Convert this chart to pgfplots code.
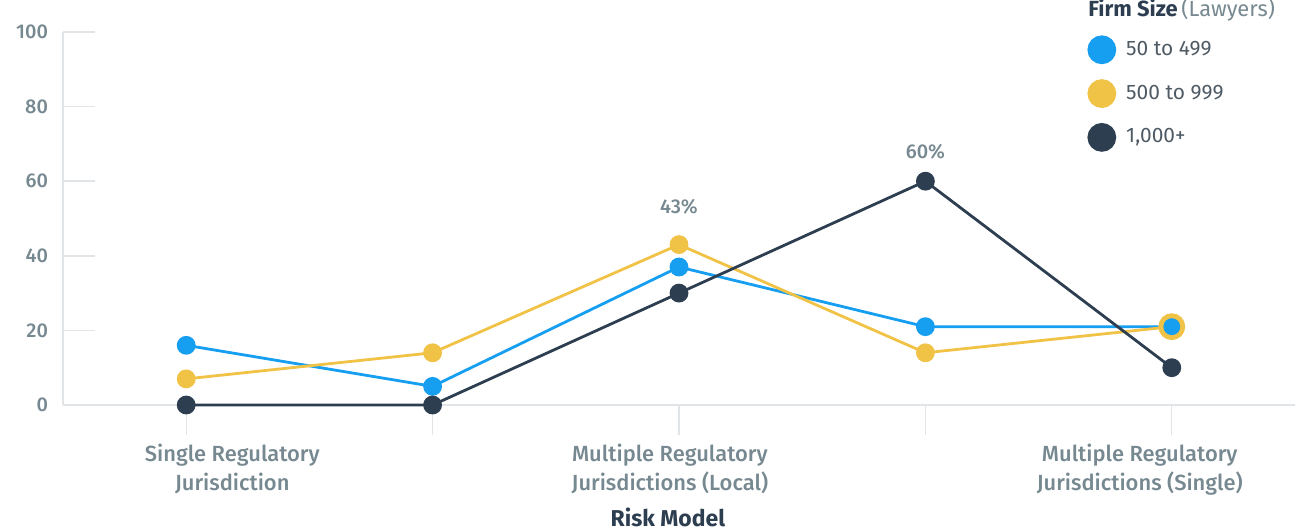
\documentclass[border=0pt]{standalone}
\usepackage{fontspec}
\setmainfont{Fira Sans}
\newfontfamily\firamed{Fira Sans}[UprightFont=* Medium]
\usepackage{pgfplots}
\pgfplotsset{compat=1.18}
\definecolor{cblue}{RGB}{22,158,240}
\definecolor{cyellow}{RGB}{240,194,70}
\definecolor{cdark}{RGB}{45,62,80}
\definecolor{gridgray}{RGB}{226,229,231}
\definecolor{ticktext}{RGB}{118,136,144}
\definecolor{legtext}{RGB}{78,90,100}
\begin{document}
\begin{tikzpicture}
\path[use as bounding box] (-31.5bp,-62bp) rectangle (616.5bp,202.5bp);
% background axis: x axis line, ticks and category labels
\begin{axis}[
  at={(0,0)}, anchor=south west, scale only axis,
  width=616bp, height=186.5bp,
  xmin=-0.5, xmax=4.5, ymin=0, ymax=100,
  axis x line*=bottom, axis y line=none,
  axis line style={draw=gridgray, line width=0.9bp},
  xtick={0,1,2,3,4},
  xticklabels={},
  tick align=outside, major tick length=15bp,
  xtick style={draw=gridgray, line width=0.6bp},
  extra x ticks={0.187,1.963,3.87},
  extra x tick labels={{Single Regulatory\\Jurisdiction},{Multiple Regulatory\\Jurisdictions (Local)},{Multiple Regulatory\\Jurisdictions (Single)}},
  extra x tick style={major tick length=0pt, tick style={draw=none, line width=0pt},
    xticklabel style={align=center, text=ticktext, font=\firamed\fontsize{11}{14.5}\selectfont, yshift=-16bp}},
  ytick=\empty,
  xlabel={\textbf{Risk Model}},
  xlabel style={text=cdark, font=\fontsize{11.5}{13}\selectfont, at={(axis description cs:0.491,-0.30)}, anchor=center},
]
\end{axis}
% data axis
\begin{axis}[
  at={(0,0)}, anchor=south west, scale only axis,
  width=616bp, height=186.5bp,
  xmin=-0.5, xmax=4.5, ymin=0, ymax=100,
  axis x line=none, axis y line*=left,
  axis line style={draw=gridgray, line width=0.9bp},
  xtick=\empty,
  ytick={0,20,40,60,80,100},
  tick align=inside, major tick length=16bp,
  ytick style={draw=gridgray, line width=0.9bp},
  yticklabel style={text=ticktext, font=\firamed\fontsize{10}{12}\selectfont, xshift=-4bp},
  /pgf/number format/assume math mode=true,
  clip=false,
  legend style={at={(axis cs:3.656,99.2)}, anchor=north west, draw=none, fill=none,
    row sep=7.5bp, font=\fontsize{10.5}{12}\selectfont, text=legtext, inner sep=0pt,
    /tikz/every odd column/.append style={column sep=3bp}},
  legend cell align=left,
  legend image code/.code={\fill[#1] (-6bp,0bp) circle (6.5bp);},
]
\addplot[color=cblue, line width=1.4bp, mark=*, mark size=4bp] coordinates {(0,16) (1,5) (2,37) (3,21) (4,21)};
\addlegendentry{50 to 499}
\addplot[color=cyellow, line width=1.4bp, mark=*, mark size=4bp] coordinates {(0,7) (1,14) (2,43) (3,14) (4,21)};
\addlegendentry{500 to 999}
\addplot[color=cdark, line width=1.4bp, mark=*, mark size=4bp] coordinates {(0,0) (1,0) (2,30) (3,60) (4,10)};
\addlegendentry{1,000+}
% highlighted point at the last category
\addplot[only marks, color=cyellow, mark=*, mark size=6.5bp, forget plot] coordinates {(4,21)};
\addplot[only marks, color=cblue, mark=*, mark size=4bp, forget plot] coordinates {(4,21)};
\node[text=ticktext, font=\firamed\fontsize{10}{12}\selectfont] at (axis cs:2,43) [yshift=19bp] {43\%};
\node[text=ticktext, font=\firamed\fontsize{10}{12}\selectfont] at (axis cs:3,60) [yshift=14.5bp] {60\%};
\end{axis}
\node[anchor=base west, inner sep=0pt, font=\fontsize{11}{13}\selectfont] at (512.5bp,194bp) {\textcolor{cdark}{\textbf{Firm Size}}\,\textcolor{ticktext}{(Lawyers)}};
\end{tikzpicture}
\end{document}
